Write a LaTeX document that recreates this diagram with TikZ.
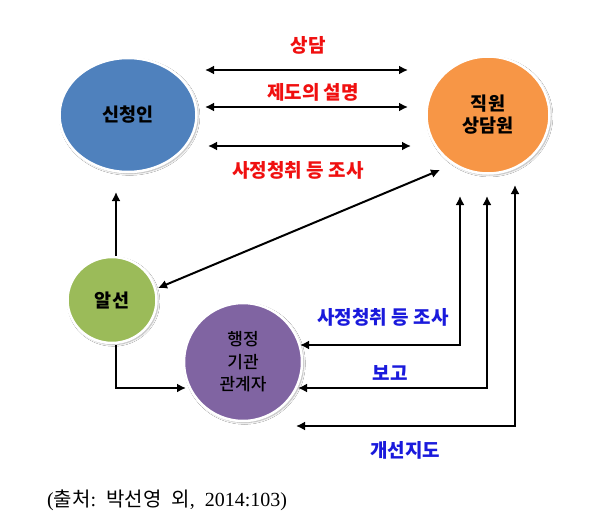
\documentclass[tikz,border=0pt]{standalone}
\usepackage{fontspec}
\setmainfont{Liberation Serif}
\newfontfamily\kr{Noto Sans CJK KR}
\newfontfamily\krh{Noto Sans CJK KR Black}
\newfontfamily\krm{Noto Sans CJK KR Medium}
\usetikzlibrary{shapes.geometric,arrows.meta,shadows.blur}
\definecolor{cblue}{HTML}{4F81BD}
\definecolor{corange}{HTML}{F79646}
\definecolor{cgreen}{HTML}{9BBB59}
\definecolor{cpurple}{HTML}{8064A2}
\definecolor{lred}{HTML}{F01010}
\definecolor{lblue}{HTML}{1A1ADC}
\tikzset{
  bubble/.style={ellipse, draw=white, line width=2.5pt, inner sep=0pt, align=center,
    blur shadow={shadow xshift=1.5pt, shadow yshift=-1.5pt, shadow blur steps=6, shadow opacity=35},
    font=\krh\fontsize{18.5}{22}\selectfont},
  link/.style={line width=2pt, -{Latex[length=9pt,width=9pt]}},
  dlink/.style={line width=2pt, {Latex[length=9pt,width=9pt]}-{Latex[length=9pt,width=9pt]}},
  redlab/.style={text=lred, font=\krh\fontsize{19}{22}\selectfont},
  bluelab/.style={text=lblue, font=\krh\fontsize{19}{22}\selectfont},
}
\begin{document}
\begin{tikzpicture}[x=1pt,y=-1pt]
\useasboundingbox (0,0) rectangle (589,519);
\fill[white] (0,0) rectangle (589,519);
% bubbles
\node[bubble, fill=cblue, minimum width=137pt, minimum height=114pt] (sin) at (128,115) {신청인};
\node[bubble, fill=corange, minimum width=123pt, minimum height=117pt] (jik) at (488,115) {직원\\상담원};
\node[bubble, fill=cgreen, minimum width=89pt, minimum height=86pt] (al) at (112,300) {알선};
\node[bubble, fill=cpurple, minimum width=118pt, minimum height=118pt,
      font=\krm\fontsize{17}{22.5}\selectfont] (hae) at (243,362) {행정\\기관\\관계자};
% endpoints
\coordinate (a1) at (205,70);  \coordinate (b1) at (408,70);
\coordinate (a2) at (205,107); \coordinate (b2) at (408,107);
\coordinate (a3) at (208,146); \coordinate (b3) at (411,146);
\coordinate (alN) at (116,256); \coordinate (sinS) at (116,192);
\coordinate (alE) at (158,288); \coordinate (jikSW) at (440,170);
\coordinate (alS) at (116,345); \coordinate (c0) at (116,388); \coordinate (haeW) at (186,388);
\coordinate (h1) at (300,345); \coordinate (c1) at (460,345); \coordinate (j1) at (460,196);
\coordinate (h2) at (298,388); \coordinate (c2) at (487,388); \coordinate (j2) at (487,196);
\coordinate (h3) at (296,426); \coordinate (c3) at (515,426); \coordinate (j3) at (515,185);
% connectors
\draw[dlink] (a1) -- (b1);
\draw[dlink] (a2) -- (b2);
\draw[dlink] (a3) -- (b3);
\draw[link] (alN) -- (sinS);
\draw[dlink] (alE) -- (jikSW);
\draw[link] (alS) -- (c0) -- (haeW);
\draw[dlink] (h1) -- (c1) -- (j1);
\draw[dlink] (h2) -- (c2) -- (j2);
\draw[dlink] (h3) -- (c3) -- (j3);
% labels
\node[redlab] (l1) at (308,45) {상담};
\node[redlab] (l2) at (313,92) {제도의 설명};
\node[redlab] (l3) at (298,170) {사정청취 등 조사};
\node[bluelab] (l4) at (383,317) {사정청취 등 조사};
\node[bluelab] (l5) at (390,373) {보고};
\node[bluelab] (l6) at (405,450) {개선지도};
% caption
\node[anchor=west, inner sep=0pt, font=\fontsize{20}{24}\selectfont] (cap) at (47,500)
  {({\kr 출처}:\ \ {\kr 박선영}\ \ {\kr 외},\ \ 2014:103)};
\end{tikzpicture}
\end{document}
